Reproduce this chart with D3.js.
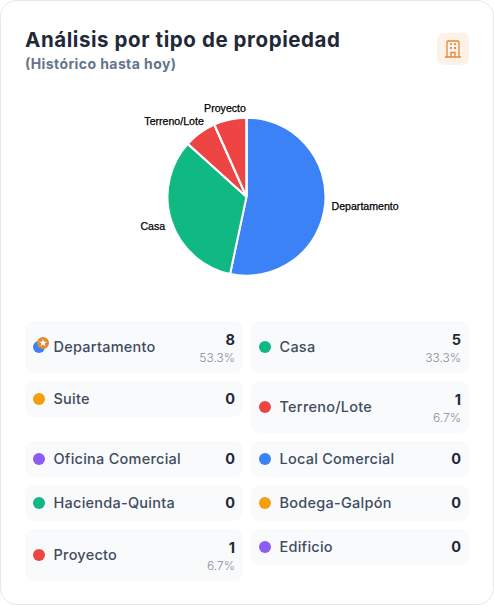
<!DOCTYPE html>
<html>
<head>
<meta charset="utf-8">
<script src="https://cdn.jsdelivr.net/npm/d3@7/dist/d3.min.js"></script>
<style>
html,body{margin:0;padding:0;background:#fff;}
svg{display:block;}
text{font-family:"Inter","Open Sans",sans-serif;}
</style>
</head>
<body>
<svg id="chart" width="494" height="606"></svg>
<script>
const title = "Análisis por tipo de propiedad";
const subtitle = "(Histórico hasta hoy)";
const categories = ["Departamento","Casa","Suite","Terreno/Lote","Oficina Comercial","Local Comercial","Hacienda-Quinta","Bodega-Galpón","Proyecto","Edificio"];
const counts = [8,5,0,1,0,0,0,0,1,0];
const colors = ["#3b82f6","#10b981","#f59e0b","#ef4444","#8b5cf6","#3b82f6","#10b981","#f59e0b","#ef4444","#8b5cf6"];

const svg = d3.select("#chart");
const total = d3.sum(counts);
const rows = categories.map((name,i)=>({name,value:counts[i],color:colors[i]}));

// Card
svg.append("rect").attr("x",0.5).attr("y",0.5).attr("width",493).attr("height",604)
  .attr("rx",16).attr("fill","#fff").attr("stroke","#e5e7eb");

// Header
svg.append("text").attr("x",25).attr("y",46.5).attr("font-size",20.5).attr("font-weight",700)
  .attr("fill","#1f2937").attr("textLength",315).attr("lengthAdjust","spacing").text(title);
svg.append("text").attr("x",25).attr("y",68.5).attr("font-size",14).attr("font-weight",700)
  .attr("fill","#64748b").attr("textLength",151).attr("lengthAdjust","spacing").text(subtitle);

// Building badge
const badge = svg.append("g").attr("transform","translate(437,33)");
badge.append("rect").attr("width",32).attr("height",32).attr("rx",7).attr("fill","#fdf2e8");
const ic = badge.append("g").attr("fill","none").attr("stroke","#e08a35").attr("stroke-width",1.3);
ic.append("path").attr("d","M10 24V9.2a1.2 1.2 0 0 1 1.2-1.2h9.6a1.2 1.2 0 0 1 1.2 1.2V24");
ic.append("path").attr("d","M8 24H24M14 24v-4.5h4V24");
ic.append("path").attr("stroke-width",1.8).attr("d","M13 11.2h1.8M17.2 11.2h1.8M13 15h1.8M17.2 15h1.8");

// Pie
const radius = 79;
const pie = d3.pie().sort(null).value(d=>d.value);
const arc = d3.arc().innerRadius(0).outerRadius(radius);
const labelArc = d3.arc().innerRadius(radius+5.5).outerRadius(radius+5.5);
const pieG = svg.append("g").attr("transform","translate(246.5,196.7)");
const slices = pie(rows);
pieG.selectAll("path").data(slices).join("path")
  .attr("d",arc).attr("fill",d=>d.data.color)
  .attr("stroke","#fff").attr("stroke-width",2);

// Narrow slices at the top push their labels apart to avoid colliding
const labelShift = {"Proyecto":[17,-6],"Terreno/Lote":[7,-7],"Casa":[-1,3],"Departamento":[1,1]};
pieG.selectAll("text").data(slices.filter(d=>d.value>0)).join("text")
  .attr("transform",d=>{
    const [x,y]=labelArc.centroid(d), [sx,sy]=labelShift[d.data.name];
    return `translate(${x+sx},${y+sy})`;
  })
  .attr("text-anchor",d=>Math.sin((d.startAngle+d.endAngle)/2)>0?"start":"end")
  .attr("dy","0.35em")
  .style("font-family","'Liberation Sans',Arial,sans-serif")
  .attr("font-size",10.6).attr("fill","#000").attr("stroke","#000").attr("stroke-width",0.25)
  .text(d=>d.data.name);

// Legend tiles, laid out as two columns in a grid whose rows share a top edge
const colX = [25,251], tileW = 218, rowGap = 8;
let rowTop = 321;
d3.range(0,rows.length,2).forEach(start=>{
  const pair = rows.slice(start,start+2);
  const rowH = Math.max(...pair.map(r=>r.value>0?52:36));
  pair.forEach((r,j)=>{
    const h = r.value>0?52:36;
    const g = svg.append("g").attr("transform",`translate(${colX[j]},${rowTop})`);
    g.append("rect").attr("width",tileW).attr("height",h).attr("rx",9).attr("fill","#f8fafc");
    g.append("circle").attr("cx",14).attr("cy",h/2).attr("r",6).attr("fill",r.color);
    if(start===0 && j===0){
      // Top-type marker on the leading category
      g.append("circle").attr("cx",18).attr("cy",h/2-4).attr("r",6).attr("fill","#e08a35");
      g.append("path").attr("transform",`translate(18,${h/2-4})`)
        .attr("d",d3.symbol(d3.symbolStar,20)).attr("fill","#fff");
    }
    g.append("text").attr("x",28.5).attr("y",h/2+5).attr("font-size",14.5).attr("font-weight",500)
      .attr("letter-spacing",0.25).attr("fill","#414c5e").text(r.name);
    g.append("text").attr("x",tileW-8).attr("y",r.value>0?23.5:h/2+5).attr("text-anchor","end")
      .attr("font-size",14.5).attr("font-weight",700).attr("fill","#1f2937").text(r.value);
    if(r.value>0){
      g.append("text").attr("x",tileW-8).attr("y",41).attr("text-anchor","end")
        .attr("font-size",12).attr("font-weight",300).attr("fill","#858d9b")
        .text((r.value/total*100).toFixed(1)+"%");
    }
  });
  rowTop += rowH + rowGap;
});
</script>
</body>
</html>
